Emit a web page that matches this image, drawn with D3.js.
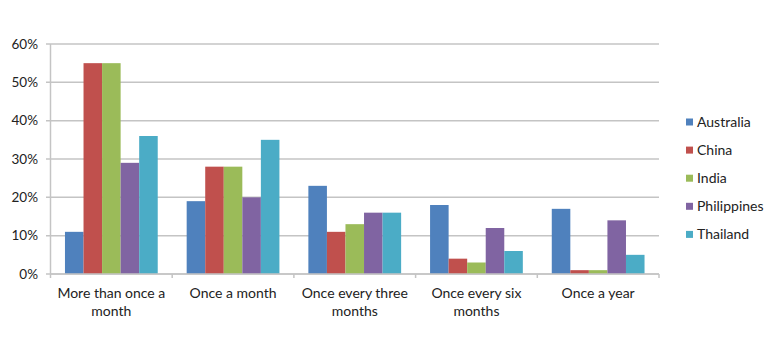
<!DOCTYPE html>
<html><head><meta charset="utf-8">
<script src="https://cdn.jsdelivr.net/npm/d3@7"></script>
<style>body{margin:0;background:#fff}svg{display:block}text{font-family:Lato,"Noto Sans",sans-serif;fill:#222}</style>
</head><body><svg id="c" width="781" height="348"></svg>
<script>
const categories = [["More than once a","month"],["Once a month"],["Once every three","months"],["Once every six","months"],["Once a year"]];
const series = ["Australia","China","India","Philippines","Thailand"];
const colors = ["#4F81BD","#C0504D","#9BBB59","#8064A2","#4BACC6"];
const australia = [11,19,23,18,17];
const china = [55,28,11,4,1];
const india = [55,28,13,3,1];
const philippines = [29,20,16,12,14];
const thailand = [36,35,16,6,5];
const yTicks = [0,10,20,30,40,50,60];
const values = [australia,china,india,philippines,thailand];

const svg = d3.select("#c");
const mLeft = 50.5, mRight = 659, mTop = 44, mBottom = 274;
const x0 = d3.scaleBand().domain(d3.range(categories.length)).range([mLeft,mRight]).paddingInner(0).paddingOuter(0);
const x1 = d3.scaleBand().domain(d3.range(series.length)).range([0,x0.bandwidth()]).paddingOuter(0.78).paddingInner(0);
const y = d3.scaleLinear().domain([0,60]).range([mBottom,mTop]);

svg.append("g").selectAll("line").data(yTicks).join("line")
  .attr("x1",mLeft-4.5).attr("x2",mRight).attr("y1",d=>y(d)).attr("y2",d=>y(d))
  .attr("stroke","#c4c4c4").attr("stroke-width",1.5);
svg.append("line").attr("x1",mLeft).attr("x2",mLeft).attr("y1",mTop).attr("y2",mBottom)
  .attr("stroke","#c4c4c4").attr("stroke-width",1.5);
svg.append("g").selectAll("text").data(yTicks).join("text")
  .attr("x",38).attr("y",d=>y(d)).attr("dy","0.35em").attr("text-anchor","end")
  .attr("font-size",13.5).text(d=>d+"%");

const g = svg.append("g");
categories.forEach((c,i)=>{
  series.forEach((s,j)=>{
    g.append("rect").attr("x",x0(i)+x1(j)).attr("width",x1.bandwidth())
     .attr("y",y(values[j][i])).attr("height",y(0)-y(values[j][i])).attr("fill",colors[j]);
  });
});
svg.append("line").attr("x1",mLeft).attr("x2",mRight).attr("y1",mBottom).attr("y2",mBottom)
  .attr("stroke","#c4c4c4").attr("stroke-width",1.5);
svg.append("g").selectAll("line").data(d3.range(categories.length+1)).join("line")
  .attr("x1",d=>mLeft+d*x0.step()).attr("x2",d=>mLeft+d*x0.step()).attr("y1",mBottom).attr("y2",mBottom+4)
  .attr("stroke","#c4c4c4").attr("stroke-width",1.5);
categories.forEach((c,i)=>{
  const cx = x0(i)+x0.bandwidth()/2;
  const t = svg.append("text").attr("x",cx).attr("y",297.5).attr("text-anchor","middle").attr("font-size",14);
  c.forEach((line,k)=>t.append("tspan").attr("x",cx).attr("dy",k===0?0:18).text(line));
});
const lg = svg.append("g");
series.forEach((s,j)=>{
  const cy = 122 + j*28.1;
  lg.append("rect").attr("x",686).attr("y",cy-3.5).attr("width",7).attr("height",7).attr("fill",colors[j]);
  lg.append("text").attr("x",697).attr("y",cy).attr("dy","0.35em").attr("font-size",14).text(s);
});
</script></body></html>
